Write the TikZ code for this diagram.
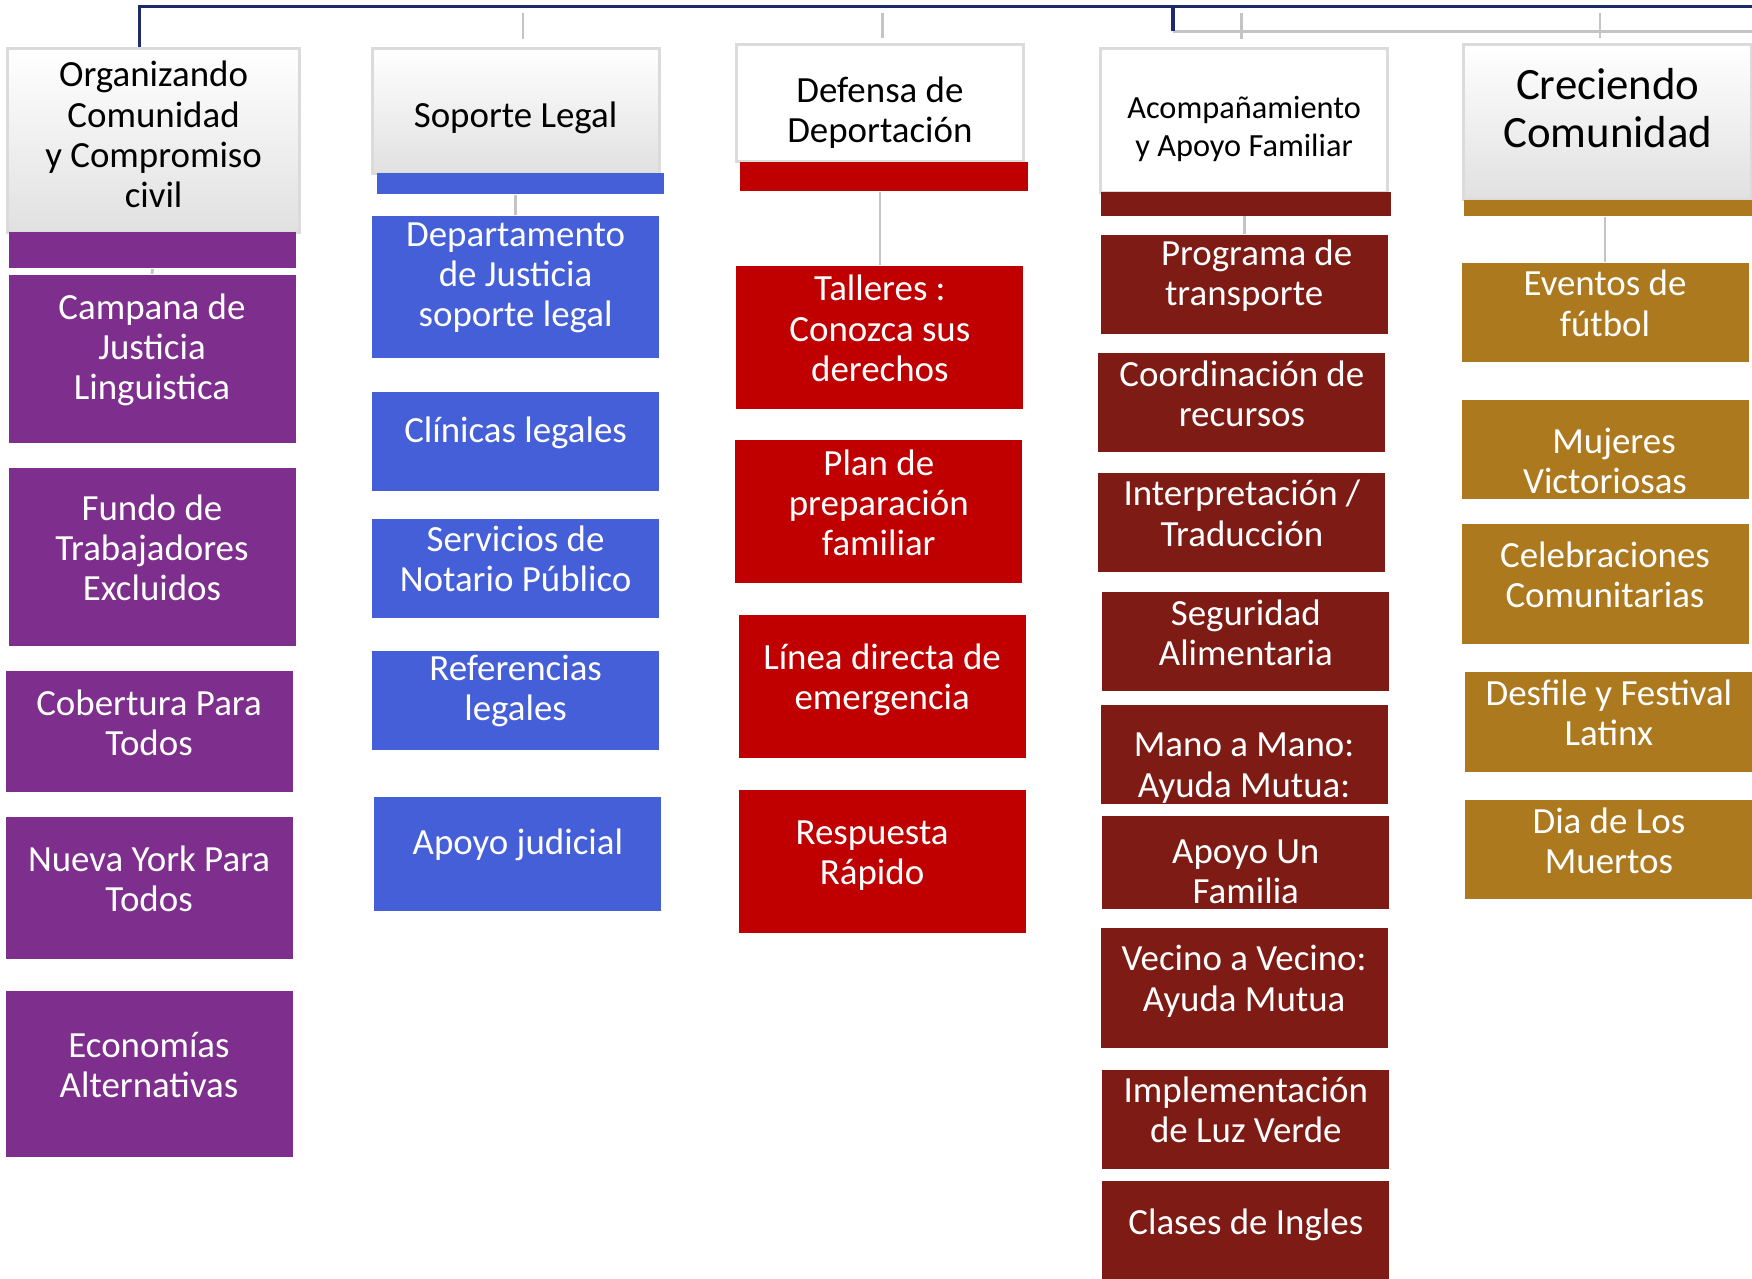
\documentclass[tikz,border=0pt]{standalone}
\usepackage{fontspec}
\setmainfont{Carlito}
\usetikzlibrary{positioning}

\definecolor{purp}{HTML}{7E2E8C}
\definecolor{blu}{HTML}{455FD8}
\definecolor{rd}{HTML}{C00000}
\definecolor{drd}{HTML}{7E1B14}
\definecolor{gld}{HTML}{AD791F}
\definecolor{navy}{HTML}{1F2A6B}
\definecolor{lgray}{HTML}{C4C4C4}

\tikzset{
  box/.style={rectangle, inner sep=0pt, minimum width=2.87cm},
  pbox/.style={box, fill=purp},
  bbox/.style={box, fill=blu},
  rbox/.style={box, fill=rd},
  dbox/.style={box, fill=drd},
  gbox/.style={box, fill=gld},
  txt/.style={align=center, inner sep=0pt, font=\fontsize{10.5}{11.45}\selectfont},
  wtxt/.style={txt, text=white, yshift=0.09cm},
  ktxt/.style={txt, text=black},
  head/.style={rectangle, inner sep=0pt, minimum width=2.87cm,
    draw=gray!28, line width=0.8pt},
  shead/.style={head, top color=white, bottom color=gray!24},
  whead/.style={head, fill=white},
  hbar/.style={rectangle, inner sep=0pt, minimum width=2.87cm},
  conn/.style={lgray, line width=0.8pt},
  topline/.style={navy, line width=1pt}
}

\begin{document}
\begin{tikzpicture}
\useasboundingbox (0,0) rectangle (17.52,-12.79);

% headers
\draw (1.536,-1.402) node (1h) [shead, minimum width=2.92cm, minimum height=1.84cm,
  label={[ktxt, yshift=0.056cm]center:{Organizando\\Comunidad\\y Compromiso\\civil}}] {};
\draw (1.525,-2.503) node (1b) [hbar, fill=purp, minimum height=0.36cm] {};

\draw (5.156,-1.106) node (2h) [shead, minimum height=1.25cm,
  label={[ktxt, yshift=-0.07cm]center:{Soporte Legal}}] {};
\draw (5.201,-1.838) node (2b) [hbar, fill=blu, minimum height=0.21cm] {};

\draw (8.799,-1.033) node (3h) [whead, minimum height=1.17cm,
  label={[ktxt, yshift=-0.09cm]center:{Defensa de\\Deportación}}] {};
\draw (8.838,-1.765) node (3b) [hbar, fill=rd, minimum width=2.88cm, minimum height=0.29cm] {};

\draw (12.441,-1.201) node (4h) [whead, minimum height=1.44cm,
  label={[ktxt, yshift=-0.09cm, font=\fontsize{9.2}{10.9}\selectfont]center:{Acompañamiento\\y Apoyo Familiar}}] {};
\draw (12.458,-2.039) node (4b) [hbar, fill=drd, minimum width=2.905cm, minimum height=0.235cm] {};

\draw (16.078,-1.223) node (5h) [shead, minimum width=2.88cm, minimum height=1.55cm,
  label={[ktxt, yshift=0.145cm, font=\fontsize{12.75}{13.7}\selectfont]center:{Creciendo\\Comunidad}}] {};
\draw (16.078,-2.078) node (5b) [hbar, fill=gld, minimum width=2.88cm, minimum height=0.16cm] {};

% top lines
\coordinate (tl) at (1.397,-0.067);
\coordinate (tr) at (17.6,-0.067);
\coordinate (tm) at (11.732,-0.067);
\coordinate (tg) at (11.732,-0.313);
\coordinate (tgr) at (17.6,-0.313);
\draw[conn] (tg) -- (tgr);
\draw[topline] (tl |- 1h.north) -- (tl) -- (tr);
\draw[topline] (tm) -- (tg);

\coordinate (k2) at (5.229,-0.134);
\coordinate (k3) at (8.827,-0.134);
\coordinate (k4) at (12.413,-0.134);
\coordinate (k5) at (16.0,-0.134);
\draw[conn, shorten >=0.08cm] (k2) -- (k2 |- 2h.north);
\draw[conn, shorten >=0.05cm] (k3) -- (k3 |- 3h.north);
\draw[conn, shorten >=0.08cm] (k4) -- (k4 |- 4h.north);
\draw[conn, shorten >=0.05cm] (k5) -- (k5 |- 5h.north);

% Organizando
\draw (1.52,-3.587)  node (11) [pbox, minimum height=1.68cm, label={[wtxt]center:{Campana de\\Justicia\\Linguistica}}] {};
\draw (1.52,-5.570)  node (12) [pbox, minimum height=1.78cm, label={[wtxt]center:{Fundo de\\Trabajadores\\Excluidos}}] {};
\draw (1.49,-7.318)  node (13) [pbox, minimum height=1.21cm, label={[wtxt]center:{Cobertura Para\\Todos}}] {};
\draw (1.49,-8.877)  node (14) [pbox, minimum height=1.42cm, label={[wtxt]center:{Nueva York Para\\Todos}}] {};
\draw (1.49,-10.743) node (15) [pbox, minimum height=1.66cm, label={[wtxt]center:{Economías\\Alternativas}}] {};
\draw[conn] (1b.south) -- (11.north);

% Soporte Legal
\draw (5.156,-2.866) node (21) [bbox, minimum height=1.42cm, label={[wtxt]center:{Departamento\\de Justicia\\soporte legal}}] {};
\draw (5.156,-4.419) node (22) [bbox, minimum height=0.99cm, label={[wtxt]center:{Clínicas legales}}] {};
\draw (5.156,-5.681) node (23) [bbox, minimum height=0.99cm, label={[wtxt]center:{Servicios de\\Notario Público}}] {};
\draw (5.156,-7.0)   node (24) [bbox, minimum height=0.99cm, label={[wtxt]center:{Referencias\\legales}}] {};
\draw (5.179,-8.536) node (25) [bbox, minimum height=1.14cm, label={[wtxt]center:{Apoyo judicial}}] {};
\draw[conn] (2b.south -| 21.north) -- (21.north);

% Defensa de Deportacion
\draw (8.799,-3.374) node (31) [rbox, minimum height=1.43cm, label={[wtxt]center:{Talleres :\\Conozca sus\\derechos}}] {};
\draw (8.788,-5.117) node (32) [rbox, minimum height=1.43cm, label={[wtxt]center:{Plan de\\preparación\\familiar}}] {};
\draw (8.821,-6.860) node (33) [rbox, minimum height=1.43cm, label={[wtxt, yshift=-0.03cm]center:{Línea directa de\\emergencia}}] {};
\draw (8.821,-8.614) node (34) [rbox, minimum height=1.43cm, label={[wtxt, yshift=-0.03cm, xshift=-0.1cm]center:{Respuesta\\Rápido}}] {};
\draw[conn] (3b.south -| 31.north) -- (31.north);

% Acompanamiento
\draw (12.441,-2.844)  node (41) [dbox, minimum height=0.99cm, label={[wtxt]center:{\hspace*{0.25cm}Programa de\\transporte}}] {};
\draw (12.419,-4.028)  node (42) [dbox, minimum height=0.99cm, label={[wtxt]center:{Coordinación de\\recursos}}] {};
\draw (12.419,-5.223)  node (43) [dbox, minimum height=0.99cm, label={[wtxt]center:{Interpretación /\\Traducción}}] {};
\draw (12.458,-6.419)  node (44) [dbox, minimum height=0.99cm, label={[wtxt]center:{Seguridad\\Alimentaria}}] {};
\draw (12.441,-7.547)  node (45) [dbox, minimum height=0.99cm, label={[wtxt, yshift=-0.225cm]center:{Mano a Mano:\\Ayuda Mutua:}}] {};
\draw (12.458,-8.620)  node (46) [dbox, minimum height=0.93cm, label={[wtxt, yshift=-0.19cm]center:{Apoyo Un\\Familia}}] {};
\draw (12.441,-9.883)  node (47) [dbox, minimum height=1.20cm, label={[wtxt, yshift=-0.02cm]center:{Vecino a Vecino:\\Ayuda Mutua}}] {};
\draw (12.458,-11.190) node (48) [dbox, minimum height=0.99cm, label={[wtxt]center:{Implementación\\de Luz Verde}}] {};
\draw (12.458,-12.30)  node (49) [dbox, minimum height=0.99cm, label={[wtxt, yshift=-0.04cm]center:{Clases de Ingles}}] {};
\draw[conn] (4b.south -| 41.north) -- (41.north);

% Creciendo Comunidad
\draw (16.050,-3.123) node (51) [gbox, minimum height=0.99cm, label={[wtxt]center:{Eventos de\\fútbol}}] {};
\draw (16.050,-4.497) node (52) [gbox, minimum height=0.99cm, label={[wtxt, yshift=-0.2cm]center:{\hspace*{0.18cm}Mujeres\\Victoriosas}}] {};
\draw (16.050,-5.838) node (53) [gbox, minimum height=1.20cm, label={[wtxt]center:{Celebraciones\\Comunitarias}}] {};
\draw (16.089,-7.218) node (54) [gbox, minimum height=1.0cm, label={[wtxt]center:{Desfile y Festival\\Latinx}}] {};
\draw (16.089,-8.497) node (55) [gbox, minimum height=0.99cm, label={[wtxt]center:{Dia de Los\\Muertos}}] {};
\draw[conn] (5b.south -| 51.north) -- (51.north);
\end{tikzpicture}
\end{document}
